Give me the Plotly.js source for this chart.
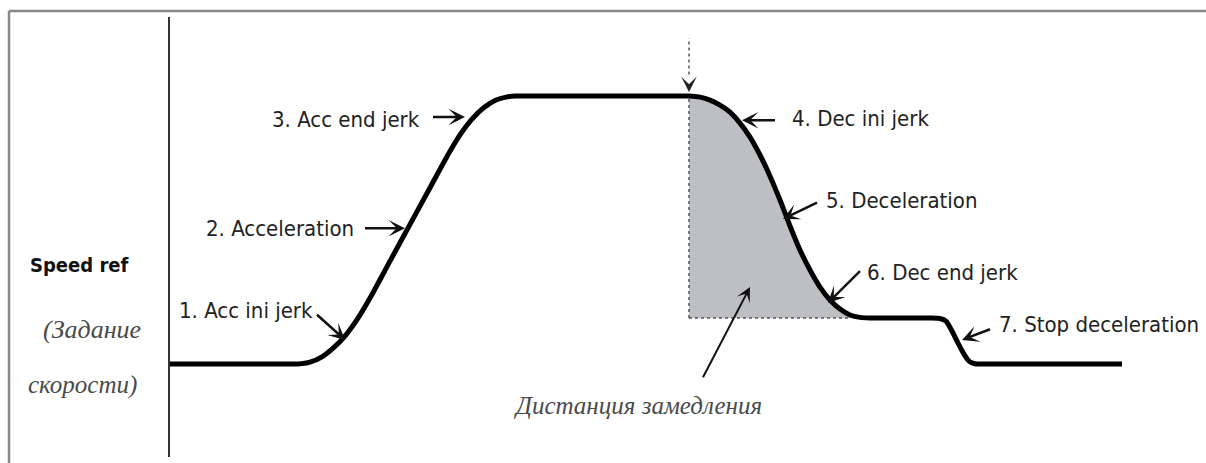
<!DOCTYPE html>
<html>
<head>
<meta charset="utf-8">
<script src="https://cdn.plot.ly/plotly-3.0.1.min.js"></script>
<style>
  html, body { margin: 0; padding: 0; background: #fff; }
  #chart { width: 1206px; height: 463px; }
</style>
</head>
<body>
<div id="chart"></div>
<script>
// ---- data (time in arbitrary units, speed in % of top speed) ----
const speedT = [0, 11, 12.8, 14.0, 15.2, 16.4, 17.6, 18.8, 20.0, 22.0, 24.0, 26.0, 27.8,
                29.0, 30.2, 31.4, 32.6, 33.6, 34.6, 36, 50,
                51.9, 53.0, 54.0, 55.0, 56.0, 57.0, 58.0, 59.0, 60.0, 61.0, 62.0, 63.0,
                64.0, 65.0, 66.0, 67.0, 68.0, 69.0, 70.0, 76.0,
                77.0, 77.6, 78.2, 78.8, 79.4, 79.9, 80.5, 81.5, 95.2];
const speedV = [0, 0, 0, 0.7, 2.7, 6.2, 10.9, 17.1, 24.6, 38.4, 52.1, 65.8, 78.1,
                85.5, 91.4, 95.7, 98.5, 99.6, 100, 100, 100,
                100, 99.6, 98.5, 96.6, 94.0, 89.9, 84.7, 78.0, 70.1, 61.2, 51.5, 42.5,
                35.1, 28.7, 23.9, 20.5, 18.3, 17.4, 17.2, 17.2,
                17.0, 16.0, 12.3, 7.8, 3.7, 1.1, 0.1, 0, 0];
const brakeStartT = 51.9;   // start of deceleration
const brakeEndT = 70;       // end of deceleration
const lowSpeed = 17.2;      // speed after deceleration

const phaseLabels = ["1. Acc ini jerk", "2. Acceleration", "3. Acc end jerk",
                     "4. Dec ini jerk", "5. Deceleration", "6. Dec end jerk",
                     "7. Stop deceleration"];
const labelT = [0.7, 3.4, 10.0, 62.0, 65.4, 69.5, 82.7];
const labelV = [20.1, 50.7, 91.4, 91.8, 61.2, 34.0, 14.6];
const arrowTailT = [14.4, 19.2, 26.0, 60.8, 65.0, 69.3, 82.3];
const arrowTailV = [19.4, 50.7, 92.2, 91.0, 60.8, 35.8, 13.4];
const arrowHeadT = [17.5, 23.5, 29.5, 57.2, 61.3, 65.8, 79.2];
const arrowHeadV = [9.0, 50.7, 92.2, 91.0, 54.1, 22.8, 9.0];

const axisLabel = "Speed ref";
const axisLabelRu = ["(Задание", "скорости)"];
const distLabel = "Дистанция замедления";

// ---- derived tables ----
const fillT = [], fillV = [];
speedT.forEach((t, i) => { if (t >= brakeStartT && t <= brakeEndT) { fillT.push(t); fillV.push(speedV[i]); } });

const narrow = "'DejaVu Sans Condensed', 'Liberation Sans Narrow', sans-serif";
const hand = "'Liberation Serif', 'DejaVu Serif', serif";
const smooth = 0.6;

const traces = [
  { x: [brakeStartT, brakeEndT], y: [lowSpeed, lowSpeed], mode: 'lines',
    line: { width: 0 }, hoverinfo: 'skip', showlegend: false },
  { x: fillT, y: fillV, mode: 'lines', fill: 'tonexty', fillcolor: '#bebfc3',
    line: { width: 0, shape: 'spline', smoothing: smooth }, hoverinfo: 'skip', showlegend: false },
  { x: speedT, y: speedV, mode: 'lines',
    line: { color: '#000', width: 5, shape: 'spline', smoothing: smooth },
    hoverinfo: 'skip', showlegend: false }
];

const annotations = [];
phaseLabels.forEach((txt, i) => {
  annotations.push({ x: labelT[i], y: labelV[i], xref: 'x', yref: 'y', text: txt,
    showarrow: false, xanchor: 'left', yanchor: 'middle',
    font: { family: narrow, size: 22, color: '#222' } });
  annotations.push({ x: arrowHeadT[i], y: arrowHeadV[i], ax: arrowTailT[i], ay: arrowTailV[i],
    xref: 'x', yref: 'y', axref: 'x', ayref: 'y', text: ' ', showarrow: true,
    arrowhead: 3, arrowsize: 1.1, arrowwidth: 2.5, arrowcolor: '#111' });
});
annotations.push({ x: -0.137, y: 36.9, xref: 'paper', yref: 'y', text: '<b>' + axisLabel + '</b>',
  showarrow: false, xanchor: 'left', yanchor: 'middle',
  font: { family: narrow, size: 20, color: '#111' } });
annotations.push({ x: -0.125, y: 12.7, xref: 'paper', yref: 'y', text: axisLabelRu[0],
  showarrow: false, xanchor: 'left', yanchor: 'middle',
  font: { family: hand, size: 26, color: '#4a4a4a', style: 'italic' } });
annotations.push({ x: -0.139, y: -7.8, xref: 'paper', yref: 'y', text: axisLabelRu[1],
  showarrow: false, xanchor: 'left', yanchor: 'middle',
  font: { family: hand, size: 25, color: '#4a4a4a', style: 'italic' } });
annotations.push({ x: 46.8, y: -15.3, xref: 'x', yref: 'y', text: distLabel,
  showarrow: false, xanchor: 'center', yanchor: 'middle',
  font: { family: hand, size: 25, color: '#4a4a4a', style: 'italic' } });
annotations.push({ x: 58, y: 28.7, ax: 53, ay: -7.1, xref: 'x', yref: 'y', axref: 'x', ayref: 'y',
  text: ' ', showarrow: true, arrowhead: 3, arrowsize: 1.2, arrowwidth: 2, arrowcolor: '#111' });
// brake point marker arrow
annotations.push({ x: brakeStartT, y: 101.5, ax: brakeStartT, ay: 108, xref: 'x', yref: 'y',
  axref: 'x', ayref: 'y', text: ' ', showarrow: true, arrowhead: 3, arrowsize: 1.3,
  arrowwidth: 2, arrowcolor: '#222' });

const shapes = [
  // dotted outline of the deceleration distance
  { type: 'line', xref: 'x', yref: 'y', x0: brakeStartT, x1: brakeStartT, y0: lowSpeed, y1: 100,
    line: { color: '#555', width: 1.5, dash: 'dot' } },
  { type: 'line', xref: 'x', yref: 'y', x0: brakeStartT, x1: brakeEndT - 2, y0: lowSpeed, y1: lowSpeed,
    line: { color: '#555', width: 1.5, dash: 'dot' } },
  { type: 'line', xref: 'x', yref: 'y', x0: brakeStartT, x1: brakeStartT, y0: 108, y1: 121.6,
    line: { color: '#555', width: 1.5, dash: 'dot' } },
  // picture frame
  { type: 'line', xref: 'paper', yref: 'paper', x0: -0.1554, x1: 1.01, y0: 1.0136, y1: 1.0136,
    line: { color: '#888', width: 2.5 } },
  { type: 'line', xref: 'paper', yref: 'paper', x0: -0.1554, x1: -0.1554, y0: -0.02, y1: 1.0136,
    line: { color: '#888', width: 2.5 } }
];

const layout = {
  width: 1206, height: 463,
  margin: { l: 170, r: 0, t: 17, b: 6, pad: 0 },
  paper_bgcolor: '#fff', plot_bgcolor: '#fff',
  showlegend: false,
  xaxis: { range: [0, 103.6], visible: false, fixedrange: true },
  yaxis: { range: [-34.7, 129.5], showline: true, linecolor: '#333', linewidth: 2,
           showgrid: false, zeroline: false, showticklabels: false, ticks: '', fixedrange: true },
  annotations: annotations,
  shapes: shapes
};

Plotly.newPlot('chart', traces, layout, { displayModeBar: false, staticPlot: true });
</script>
</body>
</html>
